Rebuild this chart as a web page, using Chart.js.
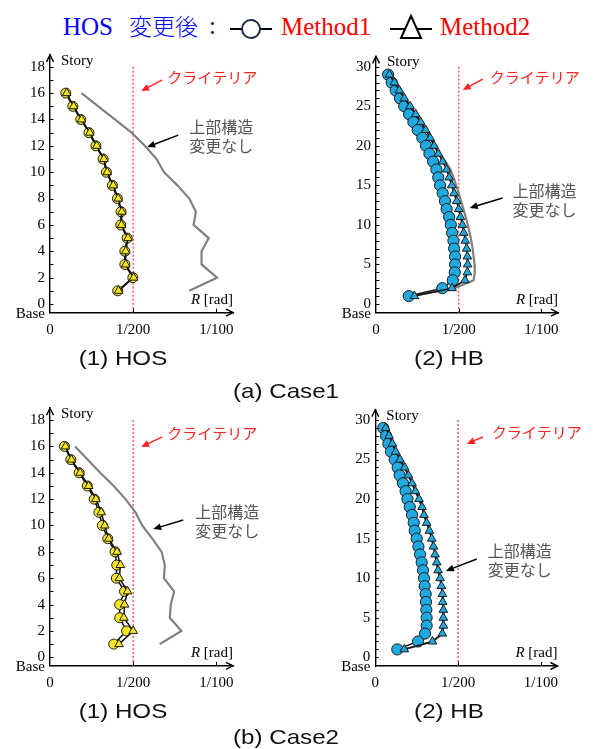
<!DOCTYPE html>
<html>
<head>
<meta charset="utf-8">
<script src="https://cdn.jsdelivr.net/npm/chart.js@4.4.1/dist/chart.umd.min.js"></script>
<style>
  body { margin: 0; background: #fff; }
  #page { position: relative; width: 598px; height: 749px; overflow: hidden; }
  canvas { position: absolute; }
  .lg { position: absolute; white-space: nowrap; line-height: 25px; }
  .serif { font-family: 'Liberation Serif', serif; font-size: 25px; }
  .cjk { font-family: 'Noto Sans CJK JP', sans-serif; font-size: 23px; line-height: 24px; font-weight: 300; }
  .blue { color: #0000ff; }
  .red { color: #ff0000; }
  .title { position: absolute; width: 200px; text-align: center; font-family: 'Liberation Sans', Arial, sans-serif;
           font-size: 21px; line-height: 21px; transform: scaleX(1.15); color: #111; }
  svg.mk { position: absolute; }
</style>
</head>
<body>
<div id="page">
  <span class="lg serif blue" style="left:63px; top:14px">HOS</span>
  <span class="lg cjk blue" style="left:129px; top:13px">変更後</span>
  <span class="lg serif" style="left:209px; top:13px">:</span>
  <svg class="mk" style="left:228px; top:14px" width="46" height="30">
    <line x1="2" y1="15" x2="44" y2="15" stroke="#000" stroke-width="2"/>
    <circle cx="23" cy="15" r="9" fill="#fff" stroke="#1c2b45" stroke-width="2"/>
  </svg>
  <span class="lg serif red" style="left:281px; top:14px">Method1</span>
  <svg class="mk" style="left:388px; top:12px" width="46" height="30">
    <line x1="2" y1="17" x2="44" y2="17" stroke="#000" stroke-width="2"/>
    <polygon points="23,4 13,26 33,26" fill="#fff" stroke="#000" stroke-width="2"/>
  </svg>
  <span class="lg serif red" style="left:440px; top:14px">Method2</span>

  <canvas id="c1"></canvas>
  <canvas id="c2"></canvas>
  <canvas id="c3"></canvas>
  <canvas id="c4"></canvas>

  <div class="title" style="left:23px; top:347px">(1) HOS</div>
  <div class="title" style="left:349px; top:347px">(2) HB</div>
  <div class="title" style="left:186px; top:380px">(a) Case1</div>
  <div class="title" style="left:23px; top:700px">(1) HOS</div>
  <div class="title" style="left:349px; top:700px">(2) HB</div>
  <div class="title" style="left:186px; top:726px">(b) Case2</div>
</div>
<script>
// R values in 1/1000 rad, listed from the top story down
const xTickValues = [0, 5, 10];
const xTickLabels = ['0', '1/200', '1/100'];
const hosYTicks = [0, 2, 4, 6, 8, 10, 12, 14, 16, 18];
const hbYTicks = [0, 5, 10, 15, 20, 25, 30];

const hosStories = [16, 15, 14, 13, 12, 11, 10, 9, 8, 7, 6, 5, 4, 3, 2, 1];
const hbStories = [29, 28, 27, 26, 25, 24, 23, 22, 21, 20, 19, 18, 17, 16, 15,
  14, 13, 12, 11, 10, 9, 8, 7, 6, 5, 4, 3, 2, 1];

const case1HosMethod1 = [0.95, 1.37, 1.85, 2.34, 2.76, 3.19, 3.39, 3.75, 4.05, 4.27, 4.25, 4.64, 4.50, 4.50, 4.98, 4.07];
const case1HosMethod2 = [1.00, 1.42, 1.90, 2.39, 2.81, 3.24, 3.44, 3.80, 4.10, 4.32, 4.30, 4.69, 4.55, 4.55, 5.03, 4.12];
const case1HosOriginal = [1.90, 2.90, 3.90, 4.90, 5.70, 6.41, 6.85, 7.66, 8.37, 8.77, 8.63, 9.54, 9.11, 9.11, 10.04, 8.37];

const case1HbMethod1 = [0.73, 0.95, 1.19, 1.45, 1.71, 2.00, 2.26, 2.52, 2.80, 3.02, 3.23, 3.45, 3.65, 3.76, 3.87,
  4.03, 4.17, 4.27, 4.42, 4.52, 4.60, 4.68, 4.72, 4.78, 4.78, 4.76, 4.64, 4.01, 1.98];
const case1HbMethod2 = [0.81, 1.11, 1.41, 1.71, 2.06, 2.40, 2.70, 3.00, 3.27, 3.51, 3.77, 4.03, 4.27, 4.42, 4.58,
  4.72, 4.88, 5.00, 5.10, 5.22, 5.30, 5.40, 5.48, 5.52, 5.54, 5.52, 5.38, 4.60, 2.32];
const case1HbOriginal = [0.80, 1.12, 1.43, 1.74, 2.08, 2.43, 2.74, 3.05, 3.33, 3.58, 3.85, 4.20, 4.50, 4.68, 4.85,
  5.00, 5.14, 5.28, 5.42, 5.55, 5.66, 5.76, 5.84, 5.90, 5.95, 5.97, 5.90, 4.75, 2.15];

const case2HosMethod1 = [0.87, 1.25, 1.75, 2.24, 2.66, 2.94, 3.15, 3.47, 3.91, 4.01, 3.99, 4.48, 4.19, 4.19, 4.60, 3.83];
const case2HosMethod2 = [0.93, 1.29, 1.81, 2.32, 2.76, 3.08, 3.29, 3.53, 4.03, 4.23, 4.17, 4.66, 4.48, 4.44, 5.00, 4.15];
const case2HosOriginal = [1.51, 2.26, 3.02, 3.83, 4.54, 5.14, 5.54, 6.15, 6.71, 6.90, 6.85, 7.46, 7.26, 7.20, 7.90, 6.59];

const case2HbMethod1 = [0.48, 0.65, 0.79, 0.95, 1.17, 1.35, 1.47, 1.67, 1.83, 1.94, 2.08, 2.22, 2.32, 2.38, 2.50,
  2.60, 2.70, 2.80, 2.88, 2.94, 2.98, 3.04, 3.06, 3.08, 3.10, 3.10, 3.00, 2.58, 1.33];
const case2HbMethod2 = [0.63, 0.83, 1.03, 1.23, 1.49, 1.77, 2.00, 2.22, 2.42, 2.64, 2.82, 2.94, 3.10, 3.27, 3.41,
  3.51, 3.61, 3.71, 3.79, 3.91, 3.99, 4.05, 4.07, 4.11, 4.11, 4.11, 4.05, 3.45, 1.75];
const case2HbOriginal = [0.63, 0.83, 1.03, 1.23, 1.49, 1.77, 2.00, 2.22, 2.42, 2.64, 2.82, 2.94, 3.10, 3.27, 3.41,
  3.51, 3.61, 3.71, 3.79, 3.91, 3.99, 4.05, 4.07, 4.11, 4.11, 4.11, 4.05, 3.45, 1.75];

const criteria = 5; // 1/200 rad

Chart.defaults.font.family = "'Liberation Serif', serif";
Chart.defaults.font.size = 15;
Chart.defaults.color = '#000';

function pts(xs, ys) {
  return xs.map((x, i) => ({ x: x, y: ys[i] }));
}

function arrow(ctx, x1, y1, x2, y2, color) {
  const a = Math.atan2(y2 - y1, x2 - x1);
  ctx.strokeStyle = color;
  ctx.fillStyle = color;
  ctx.lineWidth = 1.4;
  ctx.beginPath();
  ctx.moveTo(x1, y1);
  ctx.lineTo(x2 - 5 * Math.cos(a), y2 - 5 * Math.sin(a));
  ctx.stroke();
  ctx.beginPath();
  ctx.moveTo(x2, y2);
  ctx.lineTo(x2 - 8 * Math.cos(a) + 3.5 * Math.sin(a), y2 - 8 * Math.sin(a) - 3.5 * Math.cos(a));
  ctx.lineTo(x2 - 8 * Math.cos(a) - 3.5 * Math.sin(a), y2 - 8 * Math.sin(a) + 3.5 * Math.cos(a));
  ctx.closePath();
  ctx.fill();
}

// criteria line, inward ticks, axis arrows and notes
const decor = {
  id: 'decor',
  beforeDatasetsDraw(chart, args, o) {
    const { ctx, chartArea: a, scales: { x, y } } = chart;
    const px = x.getPixelForValue(criteria);
    ctx.save();
    ctx.strokeStyle = '#ff4d4d';
    ctx.lineWidth = 1.4;
    ctx.setLineDash([2, 2]);
    ctx.beginPath();
    ctx.moveTo(px, y.getPixelForValue(o.yTicks[o.yTicks.length - 1]));
    ctx.lineTo(px, a.bottom);
    ctx.stroke();
    ctx.restore();
  },
  afterDraw(chart, args, o) {
    const { ctx, chartArea: a, scales: { x, y } } = chart;
    const X = v => x.getPixelForValue(v);
    const Y = v => y.getPixelForValue(v);
    ctx.save();
    ctx.strokeStyle = '#000';
    ctx.lineWidth = 1;
    ctx.beginPath();
    for (let s = 0; s <= o.yTicks[o.yTicks.length - 1]; s++) {
      ctx.moveTo(a.left, Math.round(Y(s)) + 0.5);
      ctx.lineTo(a.left + 3.5, Math.round(Y(s)) + 0.5);
    }
    [5, 10].forEach(v => {
      ctx.moveTo(Math.round(X(v)) + 0.5, a.bottom);
      ctx.lineTo(Math.round(X(v)) + 0.5, a.bottom - 4);
    });
    ctx.stroke();

    ctx.lineWidth = 1.4;
    ctx.beginPath();
    ctx.moveTo(a.left - 3.5, a.top + 7);
    ctx.lineTo(a.left, a.top);
    ctx.lineTo(a.left + 3.5, a.top + 7);
    ctx.moveTo(a.right - 7, a.bottom - 3.5);
    ctx.lineTo(a.right, a.bottom);
    ctx.lineTo(a.right - 7, a.bottom + 3.5);
    ctx.stroke();

    ctx.fillStyle = '#000';
    ctx.font = "15px 'Liberation Serif'";
    ctx.textBaseline = 'alphabetic';
    ctx.textAlign = 'left';
    ctx.fillText('Story', a.left + 11, a.top + 10);
    ctx.textAlign = 'right';
    ctx.fillText('Base', a.left - 5, a.bottom + 5);
    ctx.fillText(' [rad]', a.right, a.bottom - 9);
    const w = ctx.measureText(' [rad]').width;
    ctx.font = "italic 15px 'Liberation Serif'";
    ctx.fillText('R', a.right - w, a.bottom - 9);

    // criteria note
    const c = o.crit;
    arrow(ctx, X(c.tail[0]), Y(c.tail[1]), X(c.head[0]), Y(c.head[1]), '#ff2020');
    ctx.fillStyle = '#ff2020';
    ctx.font = "15px 'Noto Sans CJK JP'";
    ctx.textAlign = 'left';
    ctx.textBaseline = 'middle';
    ctx.fillText('クライテリア', X(c.text[0]), Y(c.text[1]));

    // unchanged-superstructure note
    const n = o.note;
    arrow(ctx, X(n.tail[0]), Y(n.tail[1]), X(n.head[0]), Y(n.head[1]), '#000');
    ctx.fillStyle = '#555';
    ctx.font = "16px 'Noto Sans CJK JP'";
    ctx.fillText('上部構造', X(n.text[0]), Y(n.text[1]));
    ctx.fillText('変更なし', X(n.text[0]), Y(n.text[2]));
    ctx.restore();
  }
};

function makePanel(id, p, series, fill, notes) {
  const cv = document.getElementById(id);
  cv.width = p.w;
  cv.height = p.h;
  cv.style.left = p.left + 'px';
  cv.style.top = p.top + 'px';
  const chartTop = p.y0 - p.yMax * p.sy;
  const chartBottom = p.y0 - p.yMin * p.sy;
  const markerBorder = '#1b1b1b';
  return new Chart(cv, {
    type: 'scatter',
    data: {
      datasets: [
        {
          label: '上部構造変更なし',
          data: pts(series.original, p.stories),
          showLine: true,
          borderColor: '#808080',
          borderWidth: 2.2,
          pointRadius: 0,
          order: 3
        },
        {
          label: 'Method1',
          data: pts(series.m1, p.stories),
          showLine: true,
          borderColor: '#111',
          borderWidth: 1.5,
          pointStyle: 'circle',
          pointRadius: p.circleR,
          pointBackgroundColor: fill,
          pointBorderColor: markerBorder,
          pointBorderWidth: 1,
          order: 2
        },
        {
          label: 'Method2',
          data: pts(series.m2, p.stories),
          showLine: true,
          borderColor: '#111',
          borderWidth: 1.5,
          pointStyle: 'triangle',
          pointRadius: 5,
          pointBackgroundColor: fill,
          pointBorderColor: markerBorder,
          pointBorderWidth: 1,
          order: 1
        }
      ]
    },
    options: {
      responsive: false,
      animation: false,
      events: [],
      layout: {
        autoPadding: false,
        padding: {
          left: p.axisX - p.left - 40,
          right: p.left + p.w - p.axisRight,
          top: chartTop - p.top,
          bottom: p.top + p.h - chartBottom - 30
        }
      },
      plugins: {
        legend: { display: false },
        tooltip: { enabled: false },
        decor: { yTicks: p.yTicks, crit: notes.crit, note: notes.note }
      },
      scales: {
        x: {
          type: 'linear',
          min: 0,
          max: 11,
          afterBuildTicks: s => { s.ticks = xTickValues.map(v => ({ value: v })); },
          afterFit: s => { s.height = 30; },
          ticks: {
            callback: (v, i) => xTickLabels[i],
            padding: 8,
            maxRotation: 0,
            autoSkip: false
          },
          grid: { display: false, drawTicks: false },
          border: { color: '#000', width: 1.4 }
        },
        y: {
          type: 'linear',
          min: p.yMin,
          max: p.yMax,
          afterBuildTicks: s => { s.ticks = p.yTicks.map(v => ({ value: v })); },
          afterFit: s => { s.width = 40; },
          ticks: {
            callback: v => String(v),
            padding: 5,
            autoSkip: false
          },
          grid: { display: false, drawTicks: false },
          border: { color: '#000', width: 1.4 }
        }
      }
    },
    plugins: [decor]
  });
}

makePanel('c1',
  { left: 0, top: 40, w: 300, h: 310, axisX: 50, axisRight: 233, y0: 304, sy: 13.18, yMin: -0.65, yMax: 18.9, yTicks: hosYTicks, stories: hosStories, circleR: 5 },
  { m1: case1HosMethod1, m2: case1HosMethod2, original: case1HosOriginal }, '#f5e61e',
  { crit: { text: [7.05, 17.22], tail: [6.75, 17.0], head: [5.48, 16.16] },
    note: { text: [8.37, 13.43, 11.99], tail: [7.71, 12.82], head: [5.84, 11.91] } });

makePanel('c2',
  { left: 300, top: 40, w: 298, h: 310, axisX: 376, axisRight: 558, y0: 304, sy: 7.91, yMin: -1.1, yMax: 31.3, yTicks: hbYTicks, stories: hbStories, circleR: 5.6 },
  { m1: case1HbMethod1, m2: case1HbMethod2, original: case1HbOriginal }, '#1fa9e1',
  { crit: { text: [6.87, 28.7], tail: [6.45, 28.44], head: [5.24, 27.05] },
    note: { text: [8.25, 14.29, 11.88], tail: [7.65, 13.4], head: [5.66, 12.14] } });

makePanel('c3',
  { left: 0, top: 393, w: 300, h: 310, axisX: 50, axisRight: 233, y0: 657.3, sy: 13.18, yMin: -0.65, yMax: 18.9, yTicks: hosYTicks, stories: hosStories, circleR: 5 },
  { m1: case2HosMethod1, m2: case2HosMethod2, original: case2HosOriginal }, '#f5e61e',
  { crit: { text: [7.05, 17.02], tail: [6.75, 16.72], head: [5.48, 15.96] },
    note: { text: [8.73, 11.03, 9.58], tail: [8.01, 10.42], head: [6.2, 9.73] } });

makePanel('c4',
  { left: 300, top: 393, w: 298, h: 310, axisX: 375.3, axisRight: 557.5, y0: 657.3, sy: 7.91, yMin: -1.1, yMax: 31.3, yTicks: hbYTicks, stories: hbStories, circleR: 5.6 },
  { m1: case2HbMethod1, m2: case2HbMethod2, original: case2HbOriginal }, '#1fa9e1',
  { crit: { text: [7.03, 28.48], tail: [6.49, 27.85], head: [5.52, 26.97] },
    note: { text: [6.79, 13.44, 11.04], tail: [6.13, 12.43], head: [4.26, 10.91] } });
</script>
</body>
</html>
